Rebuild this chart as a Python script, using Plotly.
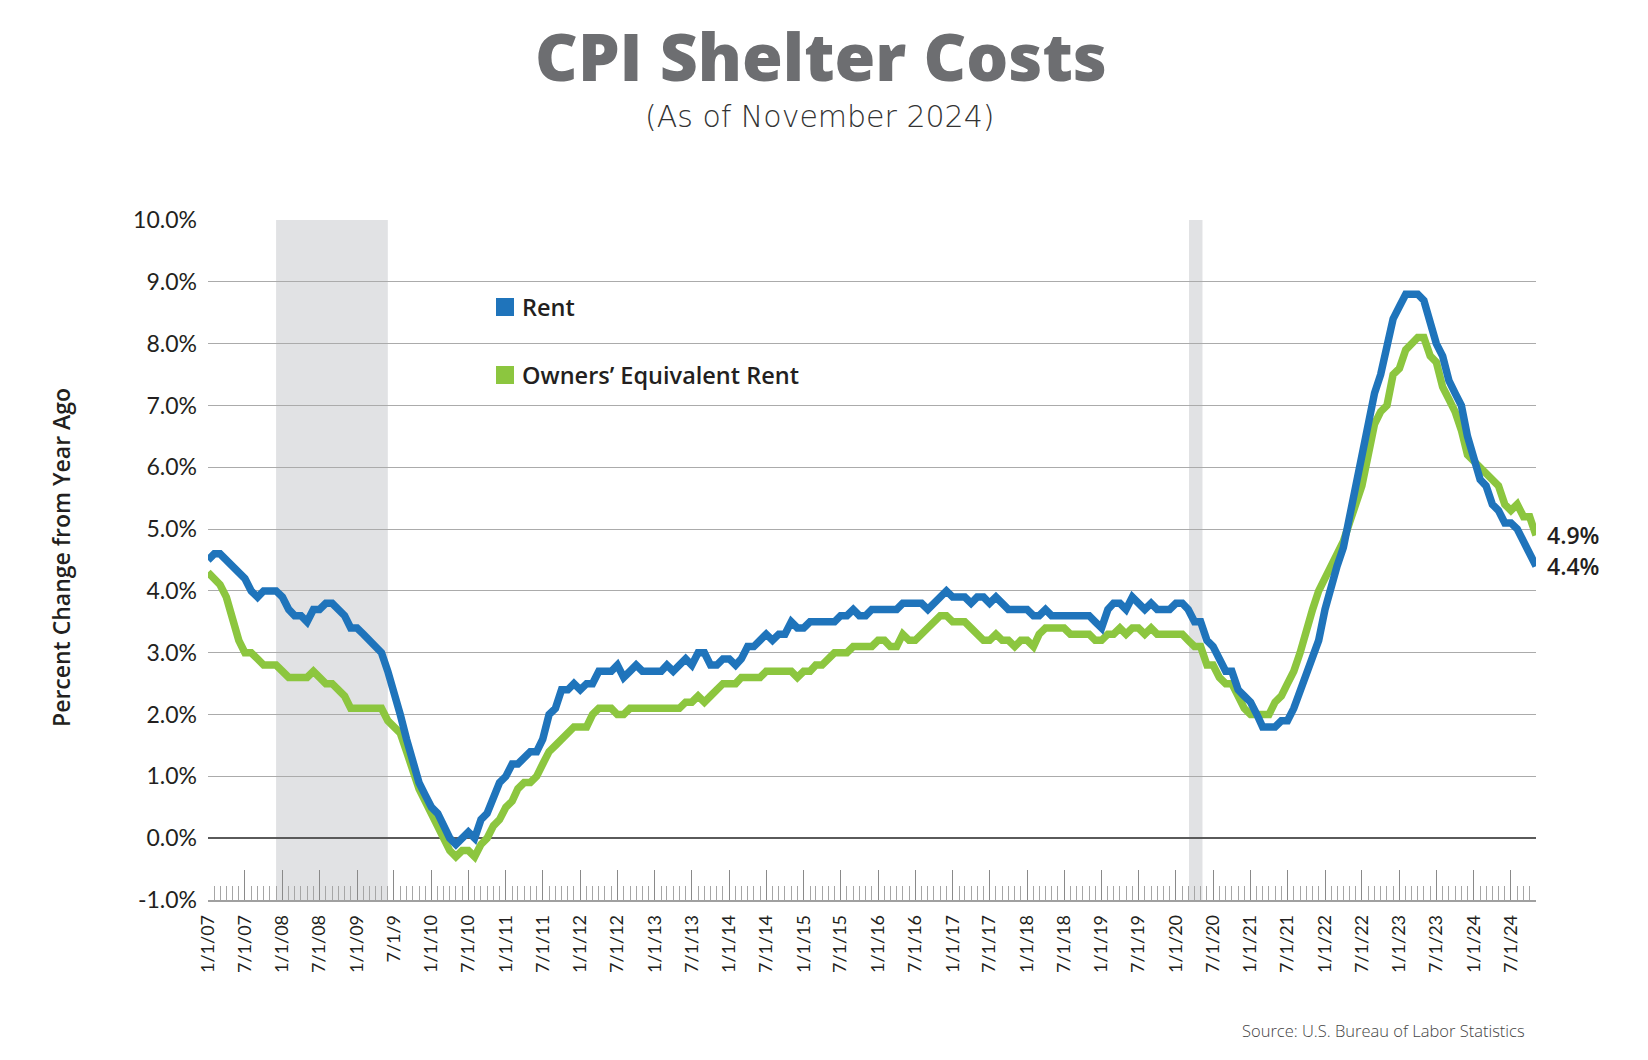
import plotly.graph_objects as go
import pandas as pd

# ---- data (monthly YoY % change, Jan 2007 - Nov 2024) ----
months = pd.date_range("2007-01-01", "2024-11-01", freq="MS")

rent = [
    4.5, 4.6, 4.6, 4.5, 4.4, 4.3, 4.2, 4.0, 3.9, 4.0, 4.0, 4.0,   # 2007
    3.9, 3.7, 3.6, 3.6, 3.5, 3.7, 3.7, 3.8, 3.8, 3.7, 3.6, 3.4,   # 2008
    3.4, 3.3, 3.2, 3.1, 3.0, 2.7, 2.3, 2.0, 1.6, 1.2, 0.9, 0.7,   # 2009
    0.5, 0.4, 0.2, 0.0, -0.1, 0.0, 0.1, 0.0, 0.3, 0.4, 0.7, 0.9,  # 2010
    1.0, 1.2, 1.2, 1.3, 1.4, 1.4, 1.6, 2.0, 2.1, 2.4, 2.4, 2.5,   # 2011
    2.4, 2.5, 2.5, 2.7, 2.7, 2.7, 2.8, 2.6, 2.7, 2.8, 2.7, 2.7,   # 2012
    2.7, 2.7, 2.8, 2.7, 2.8, 2.9, 2.8, 3.0, 3.0, 2.8, 2.8, 2.9,   # 2013
    2.9, 2.8, 2.9, 3.1, 3.1, 3.2, 3.3, 3.2, 3.3, 3.3, 3.5, 3.4,   # 2014
    3.4, 3.5, 3.5, 3.5, 3.5, 3.5, 3.6, 3.6, 3.7, 3.6, 3.6, 3.7,   # 2015
    3.7, 3.7, 3.7, 3.7, 3.8, 3.8, 3.8, 3.8, 3.7, 3.8, 3.9, 4.0,   # 2016
    3.9, 3.9, 3.9, 3.8, 3.9, 3.9, 3.8, 3.9, 3.8, 3.7, 3.7, 3.7,   # 2017
    3.7, 3.6, 3.6, 3.7, 3.6, 3.6, 3.6, 3.6, 3.6, 3.6, 3.6, 3.5,   # 2018
    3.4, 3.7, 3.8, 3.8, 3.7, 3.9, 3.8, 3.7, 3.8, 3.7, 3.7, 3.7,   # 2019
    3.8, 3.8, 3.7, 3.5, 3.5, 3.2, 3.1, 2.9, 2.7, 2.7, 2.4, 2.3,   # 2020
    2.2, 2.0, 1.8, 1.8, 1.8, 1.9, 1.9, 2.1, 2.4, 2.6, 2.9, 3.2,   # 2021
    3.7, 4.1, 4.4, 4.7, 5.2, 5.7, 6.2, 6.7, 7.2, 7.5, 7.9, 8.4,   # 2022
    8.6, 8.8, 8.8, 8.8, 8.7, 8.3, 8.0, 7.8, 7.4, 7.2, 7.0, 6.5,   # 2023
    6.1, 5.8, 5.7, 5.4, 5.3, 5.1, 5.1, 5.0, 4.8, 4.6, 4.4,        # 2024
]

oer = [
    4.3, 4.2, 4.1, 3.9, 3.5, 3.2, 3.0, 3.0, 2.9, 2.8, 2.8, 2.8,   # 2007
    2.7, 2.6, 2.6, 2.6, 2.6, 2.7, 2.6, 2.5, 2.5, 2.4, 2.3, 2.1,   # 2008
    2.1, 2.1, 2.1, 2.1, 2.1, 1.9, 1.8, 1.7, 1.4, 1.1, 0.8, 0.6,   # 2009
    0.4, 0.2, 0.0, -0.2, -0.3, -0.2, -0.2, -0.3, -0.1, 0.0, 0.2, 0.3,  # 2010
    0.5, 0.6, 0.8, 0.9, 0.9, 1.0, 1.2, 1.4, 1.5, 1.6, 1.7, 1.8,   # 2011
    1.8, 1.8, 2.0, 2.1, 2.1, 2.1, 2.0, 2.0, 2.1, 2.1, 2.1, 2.1,   # 2012
    2.1, 2.1, 2.1, 2.1, 2.1, 2.2, 2.2, 2.3, 2.2, 2.3, 2.4, 2.5,   # 2013
    2.5, 2.5, 2.6, 2.6, 2.6, 2.6, 2.7, 2.7, 2.7, 2.7, 2.7, 2.6,   # 2014
    2.7, 2.7, 2.8, 2.8, 2.9, 3.0, 3.0, 3.0, 3.1, 3.1, 3.1, 3.1,   # 2015
    3.2, 3.2, 3.1, 3.1, 3.3, 3.2, 3.2, 3.3, 3.4, 3.5, 3.6, 3.6,   # 2016
    3.5, 3.5, 3.5, 3.4, 3.3, 3.2, 3.2, 3.3, 3.2, 3.2, 3.1, 3.2,   # 2017
    3.2, 3.1, 3.3, 3.4, 3.4, 3.4, 3.4, 3.3, 3.3, 3.3, 3.3, 3.2,   # 2018
    3.2, 3.3, 3.3, 3.4, 3.3, 3.4, 3.4, 3.3, 3.4, 3.3, 3.3, 3.3,   # 2019
    3.3, 3.3, 3.2, 3.1, 3.1, 2.8, 2.8, 2.6, 2.5, 2.5, 2.3, 2.1,   # 2020
    2.0, 2.0, 2.0, 2.0, 2.2, 2.3, 2.5, 2.7, 3.0, 3.4, 3.7, 4.0,   # 2021
    4.2, 4.4, 4.6, 4.8, 5.1, 5.4, 5.7, 6.2, 6.7, 6.9, 7.0, 7.5,   # 2022
    7.6, 7.9, 8.0, 8.1, 8.1, 7.8, 7.7, 7.3, 7.1, 6.9, 6.6, 6.2,   # 2023
    6.1, 6.0, 5.9, 5.8, 5.7, 5.4, 5.3, 5.4, 5.2, 5.2, 4.9,        # 2024
]

tick_dates = pd.date_range("2007-01-01", "2024-07-01", freq="6MS")
tick_labels = [
    "1/1/07", "7/1/07", "1/1/08", "7/1/08", "1/1/09", "7/1/9",
    "1/1/10", "7/1/10", "1/1/11", "7/1/11", "1/1/12", "7/1/12",
    "1/1/13", "7/1/13", "1/1/14", "7/1/14", "1/1/15", "7/1/15",
    "1/1/16", "7/1/16", "1/1/17", "7/1/17", "1/1/18", "7/1/18",
    "1/1/19", "7/1/19", "1/1/20", "7/1/20", "1/1/21", "7/1/21",
    "1/1/22", "7/1/22", "1/1/23", "7/1/23", "1/1/24", "7/1/24",
]
y_ticks = [-1, 0, 1, 2, 3, 4, 5, 6, 7, 8, 9, 10]
y_labels = ["-1.0%", "0.0%", "1.0%", "2.0%", "3.0%", "4.0%", "5.0%",
            "6.0%", "7.0%", "8.0%", "9.0%", "10.0%"]

recessions = [("2007-12-01", "2009-06-01"), ("2020-03-05", "2020-05-10")]

series_names = ["Rent", "Owners\u2019 Equivalent Rent"]
BLUE = "#1f74bb"
GREEN = "#8cc63f"
TXT = "#231f20"

# ---- figure ----
W, H = 1648, 1060
L, R, T, B = 208, 112, 220, 160
pw, ph = W - L - R, H - T - B


def px(xpix):
    return (xpix - L) / pw


def py(ypix):
    return (H - B - ypix) / ph


fig = go.Figure()
fig.add_trace(go.Scatter(x=months, y=oer, mode="lines", name=series_names[1],
                         line=dict(color=GREEN, width=7.5)))
fig.add_trace(go.Scatter(x=months, y=rent, mode="lines", name=series_names[0],
                         line=dict(color=BLUE, width=7.5)))

for x0, x1 in recessions:
    fig.add_shape(type="rect", xref="x", yref="y", x0=x0, x1=x1, y0=-1, y1=10,
                  fillcolor="#e1e2e4", line=dict(width=0), layer="below")

# legend swatches + text
for (yc, col, name) in [(307, BLUE, series_names[0]), (375, GREEN, series_names[1])]:
    fig.add_shape(type="rect", xref="paper", yref="paper",
                  x0=px(496), x1=px(514), y0=py(yc + 9), y1=py(yc - 9),
                  fillcolor=col, line=dict(width=0))
    fig.add_annotation(text=name, xref="paper", yref="paper", x=px(520), y=py(yc),
                       xanchor="left", yanchor="middle", showarrow=False,
                       font=dict(family="Open Sans", size=23.5, color=TXT, weight=600))

# end labels
for vals in (oer, rent):
    fig.add_annotation(text=f"{vals[-1]:.1f}%", x=months[-1], y=vals[-1],
                       xref="x", yref="y", xanchor="left", yanchor="middle",
                       xshift=9, showarrow=False,
                       font=dict(family="Open Sans", size=23, color=TXT, weight=600))

# subtitle
fig.add_annotation(text="(As of November 2024)", xref="paper", yref="paper",
                   x=px(820), y=py(116), xanchor="center", yanchor="middle",
                   showarrow=False,
                   font=dict(family="DejaVu Sans", size=30, color="#333333", weight=300))

# y-axis title
fig.add_annotation(text="Percent Change from Year Ago", xref="paper", yref="paper",
                   x=px(61), y=py(558), xanchor="center", yanchor="middle",
                   textangle=-90, showarrow=False,
                   font=dict(family="Open Sans", size=23, color=TXT, weight=600))

# source
fig.add_annotation(text="Source: U.S. Bureau of Labor Statistics", xref="paper", yref="paper",
                   x=px(1527), y=py(1030), xanchor="right", yanchor="middle",
                   showarrow=False,
                   font=dict(family="Open Sans", size=16.5, color="#444444", weight=300))

fig.update_layout(
    width=W, height=H,
    margin=dict(l=L, r=R, t=T, b=B, pad=0),
    paper_bgcolor="white", plot_bgcolor="white",
    showlegend=False,
    font=dict(family="Lato", color=TXT),
    title=dict(text="CPI Shelter Costs", x=821 / W, xanchor="center",
               xref="container", yref="container", y=1 - 58 / H, yanchor="middle",
               font=dict(family="Open Sans", size=66, color="#6d6e71", weight=800)),
    xaxis=dict(
        type="date",
        range=[months[0], months[-1]],
        tickmode="array", tickvals=tick_dates, ticktext=tick_labels,
        tickangle=-90, ticks="inside", ticklen=30, tickwidth=1.3, tickcolor="#8a8a8a",
        ticklabelstandoff=6,
        tickfont=dict(family="Lato", size=18, color=TXT),
        showgrid=False, zeroline=False,
        showline=True, linecolor="#a0a0a0", linewidth=1.5,
        minor=dict(ticks="inside", ticklen=14, tickwidth=1, tickcolor="#a6a6a6",
                   dtick="M1", tick0="2007-01-01", showgrid=False),
    ),
    yaxis=dict(
        range=[-1, 10],
        tickmode="array", tickvals=y_ticks, ticktext=y_labels,
        ticks="", ticklabelstandoff=10,
        tickfont=dict(family="Lato", size=23, color=TXT),
        showgrid=True, gridcolor="#ababab", gridwidth=1.3,
        zeroline=True, zerolinecolor="#5a5a5a", zerolinewidth=1.5,
        showline=False,
    ),
)

fig.write_html("out.html", config={"displayModeBar": False},
               post_script="document.body.style.margin='0';document.body.style.overflow='hidden';")
